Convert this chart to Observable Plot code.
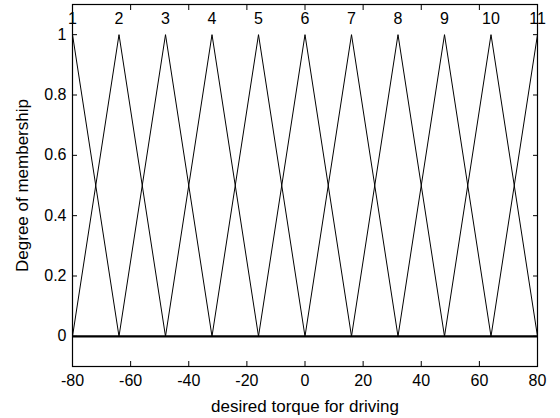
<!DOCTYPE html>
<html>
<head>
<meta charset="utf-8">
<script src="https://cdn.jsdelivr.net/npm/d3@7"></script>
<script src="https://cdn.jsdelivr.net/npm/@observablehq/plot@0.6"></script>
<style>
  html, body { margin: 0; padding: 0; background: #fff; }
  svg { display: block; }
</style>
</head>
<body>
<div id="chart"></div>
<script>
// Membership function names and triangle parameters [a, b, c]
const mfNames = ["1","2","3","4","5","6","7","8","9","10","11"];
const mfParams = [
  [-96, -80, -64],
  [-80, -64, -48],
  [-64, -48, -32],
  [-48, -32, -16],
  [-32, -16, 0],
  [-16, 0, 16],
  [0, 16, 32],
  [16, 32, 48],
  [32, 48, 64],
  [48, 64, 80],
  [64, 80, 96]
];
const xTicks = [-80, -60, -40, -20, 0, 20, 40, 60, 80];
const yTicks = [0, 0.2, 0.4, 0.6, 0.8, 1];
const yTickLabels = ["0", "0.2", "0.4", "0.6", "0.8", "1"];

const pts = [];
mfParams.forEach((p, i) => {
  pts.push({mf: mfNames[i], x: p[0], y: 0});
  pts.push({mf: mfNames[i], x: p[1], y: 1});
  pts.push({mf: mfNames[i], x: p[2], y: 0});
});
const peaks = mfParams.map((p, i) => ({name: mfNames[i], x: p[1], y: 1}));

const font = "Liberation Sans, Arial, Helvetica, sans-serif";

const chart = Plot.plot({
  width: 560,
  height: 418,
  marginLeft: 72,
  marginRight: 23,
  marginTop: 4,
  marginBottom: 52,
  style: {fontFamily: font, fontSize: "16px", color: "black", background: "white"},
  x: {domain: [-80, 80]},
  y: {domain: [-0.1, 1.1]},
  marks: [
    Plot.line(pts, {x: "x", y: "y", z: "mf", stroke: "black", strokeWidth: 1, clip: true}),
    Plot.ruleY([0], {stroke: "black", strokeWidth: 2.2}),
    Plot.text(peaks, {x: "x", y: "y", text: "name", dy: -16, fill: "black", fontSize: 16}),
    Plot.frame({stroke: "black", strokeWidth: 1.2}),
    // inward ticks
    Plot.axisX({anchor: "bottom", ticks: xTicks, tickSize: 5, dy: -5, label: null, text: null}),
    Plot.axisX({anchor: "top", ticks: xTicks, tickSize: 5, dy: 5, label: null, text: null}),
    Plot.axisY({anchor: "left", ticks: yTicks, tickSize: 5, dx: 5, label: null, text: null}),
    Plot.axisY({anchor: "right", ticks: yTicks, tickSize: 5, dx: -5, label: null, text: null}),
    // tick labels
    Plot.axisX({anchor: "bottom", ticks: xTicks, tickSize: 0, tickPadding: 8, tickFormat: d => String(d),
      label: null, fontSize: 16}),
    Plot.axisY({anchor: "left", ticks: yTicks, tickSize: 0, tickPadding: 6,
      tickFormat: (d, i) => yTickLabels[i], label: null, fontSize: 16}),
    // axis titles
    Plot.axisX({anchor: "bottom", ticks: [], tickSize: 0, label: "desired torque for driving",
      labelAnchor: "center", labelOffset: 45, labelArrow: "none", fontSize: 17}),
    Plot.axisY({anchor: "left", ticks: [], tickSize: 0, label: "Degree of membership",
      labelAnchor: "center", labelOffset: 57, labelArrow: "none", fontSize: 17})
  ]
});
document.getElementById("chart").appendChild(chart);
</script>
</body>
</html>
